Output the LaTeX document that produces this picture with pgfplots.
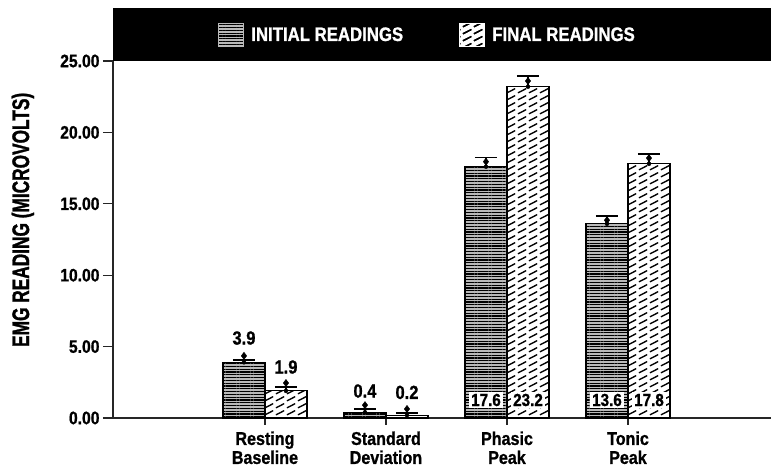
\documentclass[border=0pt]{standalone}
\usepackage{fontspec}
\setmainfont{Liberation Sans}
\newfontfamily\condfont{Liberation Sans Bold}[FakeStretch=0.72, FakeBold=1.2]
\newfontfamily\legfont{Liberation Sans Bold}[FakeStretch=0.86, FakeBold=1]
\newfontfamily\numfont{Liberation Sans Bold}[FakeStretch=0.87, FakeBold=1]
\usepackage{pgfplots}
\pgfplotsset{compat=1.18}
\usetikzlibrary{patterns,patterns.meta}

\tikzdeclarepattern{
  name=dashdiag,
  type=uncolored,
  bounding box={(0pt,0pt) and (11pt,6.8pt)},
  tile size={(11pt,6.8pt)},
  code={\draw[line width=1.4pt] (1pt,1.2pt) -- (10pt,5.5pt);}
}

\begin{document}
\begin{tikzpicture}
\fill[black] (113pt,409pt) rectangle (771pt,462pt);
\begin{axis}[
  at={(113pt,52pt)}, anchor=south west,
  scale only axis, width=658pt, height=357pt,
  xmin=-1.256, xmax=4.182, ymin=0, ymax=25,
  clip=false,
  axis x line=bottom, axis y line=left,
  axis line style={-, line width=1.3pt, black!85},
  ytick={0,5,10,15,20,25},
  xtick={0,1,2,3},
  xticklabels={{Resting\\Baseline},{Standard\\Deviation},{Phasic\\Peak},{Tonic\\Peak}},
  /pgf/number format/.cd, fixed, fixed zerofill, precision=2, assume math mode=true,
  /pgfplots/.cd,
  tick align=outside,
  major tick length=10pt,
  xtick style={/pgfplots/major tick length=7pt, line width=1.3pt, black!85},
  ytick style={line width=1.3pt, black!85},
  yticklabel style={font=\numfont\fontsize{18}{20}\selectfont},
  xticklabel style={font=\numfont\fontsize{18.5}{19}\selectfont, align=center},
  ylabel={EMG READING (MICROVOLTS)},
  every axis y label/.style={at={(rel axis cs:-0.137,0.555)}, rotate=90, anchor=center,
     font=\condfont\fontsize{24}{26}\selectfont},
  legend style={at={(rel axis cs:0.478,1.073)}, anchor=center, fill=none, draw=none,
     text=white, font=\legfont\fontsize{19.5}{21}\selectfont,
     /tikz/every odd column/.append style={column sep=5pt},
     /tikz/every even column/.append style={column sep=54pt}, inner sep=0pt},
  legend columns=2,
]
\addplot[ybar, bar width=0.347, bar shift=-0.1736, draw=black, line width=1.1pt,
  fill=gray!55, postaction={pattern={Lines[angle=0,distance=2.8pt,line width=1.1pt]}},
  legend image code/.code={\fill[gray!55, postaction={pattern={Lines[angle=0,distance=2.8pt,line width=1.1pt]}}] (0pt,-11.5pt) rectangle (25pt,11.5pt);}]
  coordinates {(0,3.9) (1,0.4) (2,17.6) (3,13.6)};
\addplot[ybar, bar width=0.347, bar shift=0.1736, draw=black, line width=1.1pt,
  fill=white, postaction={pattern=dashdiag},
  legend image code/.code={\fill[white, postaction={pattern=dashdiag}] (0pt,-11.5pt) rectangle (25pt,11.5pt);}]
  coordinates {(0,1.9) (1,0.2) (2,23.2) (3,17.8)};
\legend{INITIAL READINGS, FINAL READINGS}
% error bars
\addplot[forget plot, only marks, mark=none, draw=black,
  error bars/.cd, y dir=plus, y explicit,
  error bar style={line width=1.4pt, black},
  error mark options={rotate=90, line width=1.4pt, black, mark size=11pt}]
  coordinates {(-0.1736,3.9) +- (0,0.15) (0.8264,0.4) +- (0,0.23) (1.8264,17.6) +- (0,0.65) (2.8264,13.6) +- (0,0.55)
               (0.1736,1.9) +- (0,0.27) (1.1736,0.2) +- (0,0.15) (2.1736,23.2) +- (0,0.75) (3.1736,17.8) +- (0,0.7)};
% means (diamonds)
\addplot[forget plot, only marks, mark=diamond*, mark size=3.6pt, black]
  coordinates {(-0.1736,4.35) (0.8264,0.9) (1.8264,17.95) (2.8264,13.85)
               (0.1736,2.45) (1.1736,0.63) (2.1736,23.6) (3.1736,18.2)};
% value labels
\node[font=\numfont\fontsize{19}{20}\selectfont] at (axis cs:-0.1736,5.6) {3.9};
\node[font=\numfont\fontsize{19}{20}\selectfont] at (axis cs:0.1736,3.57) {1.9};
\node[font=\numfont\fontsize{19}{20}\selectfont] at (axis cs:0.8264,1.89) {0.4};
\node[font=\numfont\fontsize{19}{20}\selectfont] at (axis cs:1.1736,1.79) {0.2};
\node[font=\numfont\fontsize{17.5}{18}\selectfont, fill=white, inner sep=1.8pt] at (axis cs:1.8264,1.26) {17.6};
\node[font=\numfont\fontsize{17.5}{18}\selectfont, fill=white, inner sep=1.8pt] at (axis cs:2.1736,1.26) {23.2};
\node[font=\numfont\fontsize{17.5}{18}\selectfont, fill=white, inner sep=1.8pt] at (axis cs:2.8264,1.26) {13.6};
\node[font=\numfont\fontsize{17.5}{18}\selectfont, fill=white, inner sep=1.8pt] at (axis cs:3.1736,1.26) {17.8};
\end{axis}
\pgfresetboundingbox
\path[use as bounding box] (0pt,0pt) rectangle (771pt,470pt);
\end{tikzpicture}
\end{document}
